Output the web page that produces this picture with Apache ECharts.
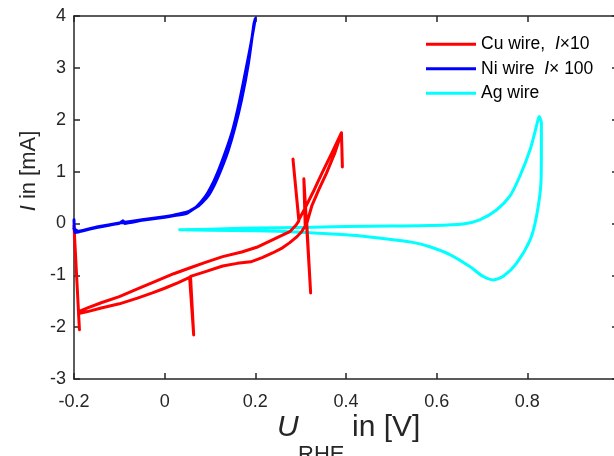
<!DOCTYPE html>
<html>
<head>
<meta charset="utf-8">
<script src="https://cdn.jsdelivr.net/npm/echarts/dist/echarts.min.js"></script>
<style>html,body{margin:0;padding:0;background:#fff;}#c{width:614px;height:456px;}</style>
</head>
<body>
<div id="c"></div>
<script>
// Cu wire (current x10)
const cuU = [-0.2, -0.188, -0.19, -0.17, -0.14, -0.1, -0.06, -0.027, 0.0, 0.03, 0.055, 0.064, 0.057, 0.09, 0.128, 0.16, 0.19, 0.215, 0.238, 0.26, 0.276, 0.29, 0.302, 0.31, 0.307, 0.322, 0.3135, 0.325, 0.34, 0.357, 0.375, 0.39, 0.392, 0.39, 0.37, 0.347, 0.33, 0.31, 0.296, 0.283, 0.296, 0.29, 0.276, 0.247, 0.203, 0.17, 0.128, 0.09, 0.055, 0.02, -0.027, -0.06, -0.1, -0.14, -0.17, -0.19];
const cuI = [-0.05, -2.05, -1.74, -1.70, -1.63, -1.55, -1.44, -1.34, -1.25, -1.14, -1.04, -2.15, -1.02, -0.93, -0.82, -0.77, -0.74, -0.66, -0.57, -0.47, -0.37, -0.27, -0.16, -0.05, 0.86, -1.34, 0.0, 0.35, 0.65, 0.97, 1.35, 1.75, 1.09, 1.75, 1.38, 0.97, 0.65, 0.3, 0.07, 1.24, 0.05, -0.03, -0.16, -0.28, -0.46, -0.55, -0.64, -0.75, -0.86, -0.97, -1.14, -1.26, -1.41, -1.53, -1.63, -1.70];
// Ni wire (current x100)
const niU = [-0.2, -0.198, -0.18, -0.15, -0.12, -0.1, -0.092, -0.088, -0.05, 0.0, 0.03, 0.05, 0.07, 0.09, 0.105, 0.12, 0.135, 0.15, 0.165, 0.18, 0.19, 0.2, 0.197, 0.185, 0.17, 0.155, 0.14, 0.125, 0.11, 0.095, 0.075, 0.05, 0.02, 0.0, -0.05, -0.1, -0.15, -0.19, -0.2];
const niI = [0.07, -0.18, -0.14, -0.08, -0.03, 0.0, 0.05, 0.0, 0.06, 0.12, 0.16, 0.2, 0.32, 0.52, 0.75, 1.05, 1.4, 1.8, 2.35, 3.0, 3.45, 3.95, 3.85, 3.1, 2.4, 1.85, 1.4, 1.05, 0.75, 0.52, 0.34, 0.22, 0.16, 0.13, 0.07, 0.01, -0.07, -0.15, -0.1];
// Ag wire
const agU = [0.033, 0.1, 0.2, 0.3, 0.4, 0.5, 0.585, 0.658, 0.695, 0.732, 0.761, 0.783, 0.806, 0.82, 0.826, 0.831, 0.831, 0.83, 0.82, 0.806, 0.776, 0.747, 0.725, 0.702, 0.673, 0.629, 0.585, 0.55, 0.5, 0.452, 0.4, 0.3, 0.2, 0.1, 0.033];
const agI = [-0.12, -0.11, -0.09, -0.08, -0.06, -0.05, -0.04, -0.01, 0.07, 0.26, 0.52, 0.90, 1.42, 1.87, 2.06, 1.94, 1.42, 0.78, 0.13, -0.32, -0.77, -1.02, -1.09, -1.02, -0.83, -0.60, -0.45, -0.37, -0.31, -0.26, -0.22, -0.17, -0.14, -0.13, -0.12];

const xTicks = [-0.2, 0, 0.2, 0.4, 0.6, 0.8, 1];
const yTicks = [-3, -2, -1, 0, 1, 2, 3, 4];
const seriesNames = ['Cu wire', 'Ni wire', 'Ag wire'];

const zip = (a, b) => a.map((v, i) => [v, b[i]]);
const FONT = "'Liberation Sans', Arial, sans-serif";
const AX = '#262626';

function fmtTick(v) {
  const r = Math.round(v * 10) / 10;
  return String(r);
}

const chart = echarts.init(document.getElementById('c'), null, {renderer: 'canvas'});
const axisCommon = {
  type: 'value',
  axisLine: {show: true, onZero: false, lineStyle: {color: AX, width: 1.5}},
  axisTick: {show: true, inside: true, length: 6, lineStyle: {color: AX, width: 1.5}},
  splitLine: {show: false}
};
const lineStyle = (c) => ({color: c, width: 3, join: 'round', cap: 'round'});
chart.setOption({
  animation: false,
  backgroundColor: '#fff',
  grid: {left: 74, top: 16, width: 544, height: 363, containLabel: false, outerBoundsMode: 'none'},
  xAxis: [
    Object.assign({}, axisCommon, {position: 'bottom', min: xTicks[0], max: xTicks[xTicks.length-1], interval: 0.2,
      axisLabel: {show: true, color: AX, fontSize: 18, fontFamily: FONT, margin: 14, formatter: fmtTick}}),
    Object.assign({}, axisCommon, {position: 'top', min: xTicks[0], max: xTicks[xTicks.length-1], interval: 0.2,
      axisLabel: {show: false}})
  ],
  yAxis: [
    Object.assign({}, axisCommon, {position: 'left', min: yTicks[0], max: yTicks[yTicks.length-1], interval: 1,
      axisLabel: {show: true, color: AX, fontSize: 18, fontFamily: FONT, margin: 8, formatter: fmtTick}}),
    Object.assign({}, axisCommon, {position: 'right', min: yTicks[0], max: yTicks[yTicks.length-1], interval: 1,
      axisLabel: {show: false}})
  ],
  legend: {
    data: seriesNames,
    orient: 'vertical',
    left: 426, top: 32, padding: 0,
    itemWidth: 50, itemHeight: 3, itemGap: 0,
    icon: 'rect',
    textStyle: {
      color: '#000', fontSize: 17.5, fontFamily: FONT, lineHeight: 24.5,
      rich: {
        n: {fontSize: 17.5, fontFamily: FONT, lineHeight: 24.5, color: '#000'},
        i: {fontSize: 17.5, fontFamily: FONT, lineHeight: 24.5, fontStyle: 'italic', color: '#000'}
      }
    },
    formatter: function (name) {
      if (name === 'Cu wire') return '{n|Cu wire,  }{i|I}{n|\u00d710}';
      if (name === 'Ni wire') return '{n|Ni wire  }{i|I}{n|\u00d7 100}';
      return '{n|Ag wire}';
    }
  },
  series: [
    {name: 'Ag wire', type: 'line', data: zip(agU, agI), symbol: 'none', smooth: 0.25, lineStyle: lineStyle('#00ffff'), itemStyle: {color: '#00ffff'}, z: 2},
    {name: 'Cu wire', type: 'line', data: zip(cuU, cuI), symbol: 'none', lineStyle: lineStyle('#ff0000'), itemStyle: {color: '#ff0000'}, z: 3},
    {name: 'Ni wire', type: 'line', data: zip(niU, niI), symbol: 'none', smooth: 0.15, lineStyle: lineStyle('#0000ff'), itemStyle: {color: '#0000ff'}, z: 4}
  ],
  graphic: [
    {type: 'text', x: 29, y: 171, rotation: Math.PI / 2,
      style: {text: '{i|I} in [mA]', fontSize: 22, fontFamily: FONT, fill: AX, align: 'center', verticalAlign: 'middle',
        rich: {i: {fontSize: 22, fontFamily: FONT, fontStyle: 'italic', fill: AX}}}},
    {type: 'text', x: 277, y: 428,
      style: {text: 'U', fontSize: 30, fontFamily: FONT, fontStyle: 'italic', fill: AX, align: 'left', verticalAlign: 'middle'}},
    {type: 'text', x: 298, y: 455,
      style: {text: 'RHE', fontSize: 22, fontFamily: FONT, fill: AX, align: 'left', verticalAlign: 'middle'}},
    {type: 'text', x: 352, y: 428,
      style: {text: 'in [V]', fontSize: 30, fontFamily: FONT, fill: AX, align: 'left', verticalAlign: 'middle'}}
  ]
});
</script>
</body>
</html>
